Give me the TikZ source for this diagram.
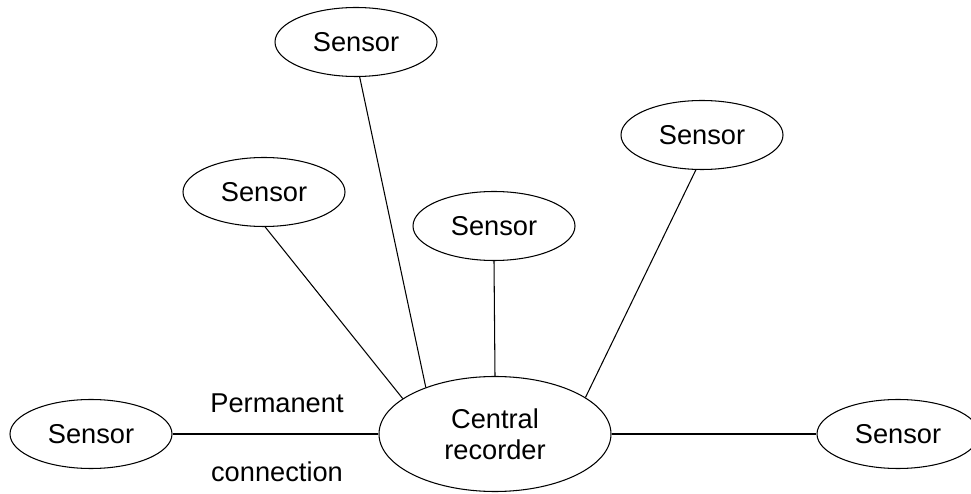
\documentclass[tikz,border=0pt]{standalone}
\usepackage{fontspec}
\setmainfont{Liberation Sans}
\usetikzlibrary{shapes.geometric}

\begin{document}
\begin{tikzpicture}[
    every node/.style={font=\fontsize{15.5}{17.6}\selectfont},
    sensor/.style={ellipse, draw, line width=0.6pt, inner sep=0pt, minimum width=3.24cm, minimum height=1.38cm},
    recorder/.style={ellipse, draw, line width=0.6pt, inner sep=0pt, minimum width=4.64cm, minimum height=2.3cm, align=center},
    link/.style={line width=0.6pt}
]
    \useasboundingbox (0,0) rectangle (19.42,-9.88);

    % Central recorder
    \node[recorder] (rec) at (9.90,-8.68) {Central\\recorder};

    % Sensors
    \node[sensor] (s1) at (7.12,-0.84) {Sensor};
    \node[sensor] (s2) at (5.28,-3.84) {Sensor};
    \node[sensor] (s3) at (9.88,-4.52) {Sensor};
    \node[sensor] (s4) at (14.04,-2.70) {Sensor};
    \node[sensor] (s5) at (1.82,-8.68) {Sensor};
    \node[sensor] (s6) at (17.96,-8.68) {Sensor};

    % Connections
    \draw[link] (s1.-84) -- (rec.146);
    \draw[link] (s2.-88) -- (rec.159);
    \draw[link] (s3.south) -- (rec.north);
    \draw[link] (s4.-100) -- (rec.22);
    \draw[link] (s5.east) -- (rec.west);
    \draw[link] (rec.east) -- (s6.west);

    % Label of the left connection
    \node (perm) at (5.54,-8.06) {Permanent};
    \node (conn) at (5.54,-9.44) {connection};

\end{tikzpicture}
\end{document}
